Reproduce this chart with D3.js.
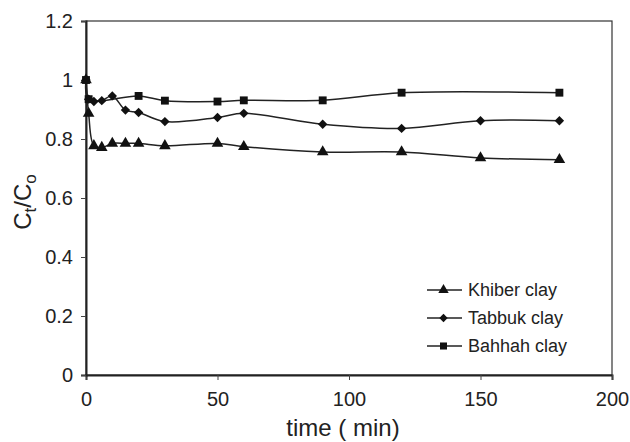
<!DOCTYPE html>
<html><head><meta charset="utf-8">
<script src="https://cdn.jsdelivr.net/npm/d3@7"></script>
<style>body{margin:0;background:#fff}svg{display:block}text{font-family:"Liberation Sans",Arial,sans-serif;fill:#222}</style>
</head><body><svg id="c" width="630" height="442"></svg>
<script>
const khiberT = [0,1,3,6,10,15,20,30,50,60,90,120,150,180];
const khiberV = [1.0,0.887,0.777,0.771,0.785,0.785,0.785,0.777,0.785,0.774,0.756,0.756,0.736,0.73];
const tabbukT = [0,1,3,6,10,15,20,30,50,60,90,120,150,180];
const tabbukV = [1.0,0.935,0.927,0.93,0.946,0.898,0.89,0.859,0.873,0.887,0.85,0.836,0.862,0.862];
const bahhahT = [0,1,20,30,50,60,90,120,180];
const bahhahV = [1.0,0.935,0.946,0.93,0.927,0.931,0.931,0.957,0.957];
const seriesNames = ["Khiber clay","Tabbuk clay","Bahhah clay"];
const xTicks = [0,50,100,150,200];
const yTicks = [0,0.2,0.4,0.6,0.8,1,1.2];

const svg = d3.select("#c");
const L=86, R=612, T=21, B=375;
const x = d3.scaleLinear().domain([0,200]).range([L,R]);
const y = d3.scaleLinear().domain([0,1.2]).range([B,T]);

// frame
svg.append("rect").attr("x",L).attr("y",T).attr("width",R-L).attr("height",B-T)
  .attr("fill","none").attr("stroke","#333").attr("stroke-width",1.2);

const xa = svg.append("g").attr("transform",`translate(0,${B})`)
  .call(d3.axisBottom(x).tickValues(xTicks).tickFormat(d3.format("d")).tickSize(5).tickPadding(12));
const ya = svg.append("g").attr("transform",`translate(${L},0)`)
  .call(d3.axisLeft(y).tickValues(yTicks).tickFormat(d=>String(+d.toFixed(1))).tickSize(5).tickPadding(8));
[xa,ya].forEach(a=>{
  a.selectAll("path").attr("stroke","#222").attr("stroke-width",2);
  a.selectAll("line").attr("stroke","#444").attr("stroke-width",1);
  a.selectAll("text").attr("font-size",20).attr("fill","#222").style("font-family","'Liberation Sans',Arial,sans-serif");
});

svg.append("text").attr("x",(L+R)/2-6).attr("y",436).attr("text-anchor","middle").attr("font-size",24).text("time ( min)");
const yl = svg.append("text").attr("transform",`translate(31,${(T+B)/2+4}) rotate(-90)`).attr("text-anchor","middle").attr("font-size",24);
yl.append("tspan").text("C");
yl.append("tspan").attr("font-size",17).attr("dy",5).text("t");
yl.append("tspan").attr("dy",-5).text("/C");
yl.append("tspan").attr("font-size",17).attr("dy",5).text("o");

const diamond = {draw(ctx, size){const r=Math.sqrt(size/2); ctx.moveTo(0,-r); ctx.lineTo(r,0); ctx.lineTo(0,r); ctx.lineTo(-r,0); ctx.closePath();}};
const line = d3.line().x(d=>x(d[0])).y(d=>y(d[1])).curve(d3.curveCatmullRom.alpha(0.5));
const data = [
  {name:seriesNames[0], pts:khiberT.map((t,i)=>[t,khiberV[i]]), sym:d3.symbolTriangle, size:58},
  {name:seriesNames[1], pts:tabbukT.map((t,i)=>[t,tabbukV[i]]), sym:diamond, size:44},
  {name:seriesNames[2], pts:bahhahT.map((t,i)=>[t,bahhahV[i]]), sym:d3.symbolSquare, size:62}
];
data.forEach(s=>{
  svg.append("path").attr("d",line(s.pts)).attr("fill","none").attr("stroke","#222").attr("stroke-width",1.5);
});
data.forEach(s=>{
  svg.append("g").selectAll("path").data(s.pts).join("path")
    .attr("transform",d=>`translate(${x(d[0])},${y(d[1])})`)
    .attr("d",d3.symbol().type(s.sym).size(s.size)).attr("fill","#111");
});

// legend
const lg = svg.append("g");
data.forEach((s,i)=>{
  const yy = 290 + i*28;
  lg.append("line").attr("x1",427).attr("x2",462).attr("y1",yy).attr("y2",yy).attr("stroke","#222").attr("stroke-width",1.5);
  lg.append("path").attr("transform",`translate(443.5,${yy})`).attr("d",d3.symbol().type(s.sym).size(s.size*0.8)).attr("fill","#111");
  lg.append("text").attr("x",468).attr("y",yy+6).attr("font-size",18).text(s.name);
});
</script></body></html>
